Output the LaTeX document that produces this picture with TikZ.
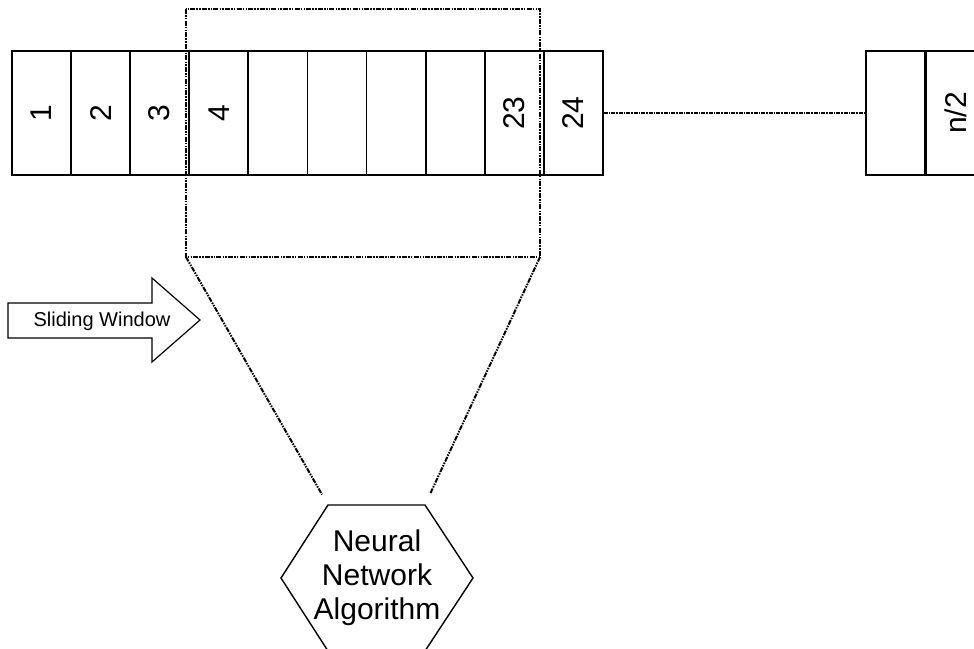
\documentclass[tikz,border=0pt]{standalone}
\usepackage{fontspec}
\setmainfont{Liberation Sans}
\usetikzlibrary{calc}
\tikzset{
celula/.style={draw=black, line width=1.8pt, minimum width=59.1pt, minimum height=124pt,
               inner sep=0pt, anchor=west, font=\fontsize{30}{36}\selectfont}
                }
\tikzset{
janela/.style = {line width=2pt, dash pattern=on 5pt off 1.2pt on 1.5pt off 1.2pt on 1.5pt off 1.2pt}
         }

\begin{document}
\begin{tikzpicture}[x=1pt,y=-1pt]
    \useasboundingbox (0,0) rectangle (974,648);

          % CELULAS
    \foreach \i/\txt in {0/1,1/2,2/3,3/4,4/,5/,6/,7/,8/23,9/24}
        \node[celula] (c\i) at ({11+59.1*\i},113) {\rotatebox{90}{\txt}};
    \node[celula] (m) at (865,113) {};
    \node[celula] (n) at (925,113) {\rotatebox{90}{n/2}};
    \draw[line width=1.5pt, dash pattern=on 4pt off 1pt on 1.5pt off 1pt] (c9.east) -- (m.west);

        % JANELA
    \draw[janela] (186,9) rectangle (540,257);
    \coordinate (JE) at (186,257);
    \coordinate (JD) at (540,257);

    % REDE NEURAL
    \coordinate (H1) at (328,505);
    \coordinate (H2) at (425,505);
    \coordinate (H3) at (473,578);
    \coordinate (H4) at (425,651);
    \coordinate (H5) at (328,651);
    \coordinate (H6) at (281,578);
    \draw[line width=1.4pt] (H1) -- (H2) -- (H3) -- (H4) -- (H5) -- (H6) -- cycle;
    \node[align=center, font=\fontsize{30}{34}\selectfont, inner sep=0pt] (rede) at (377,578)
        {Neural\\Network\\Algorithm};

    \draw[janela, shorten >=12pt] (JE) -- (H1);
    \draw[janela, shorten >=12pt] (JD) -- (H2);

      % SETA
    \draw[line width=1.2pt, line join=miter] (8,303) -- (152,303) -- (152,278) -- (200,320)
        -- (152,362) -- (152,338) -- (8,338) -- cycle;
    \node[font=\fontsize{20}{24}\selectfont, inner sep=0pt] (seta) at (102,321) {Sliding Window};

    \end{tikzpicture}
\end{document}
